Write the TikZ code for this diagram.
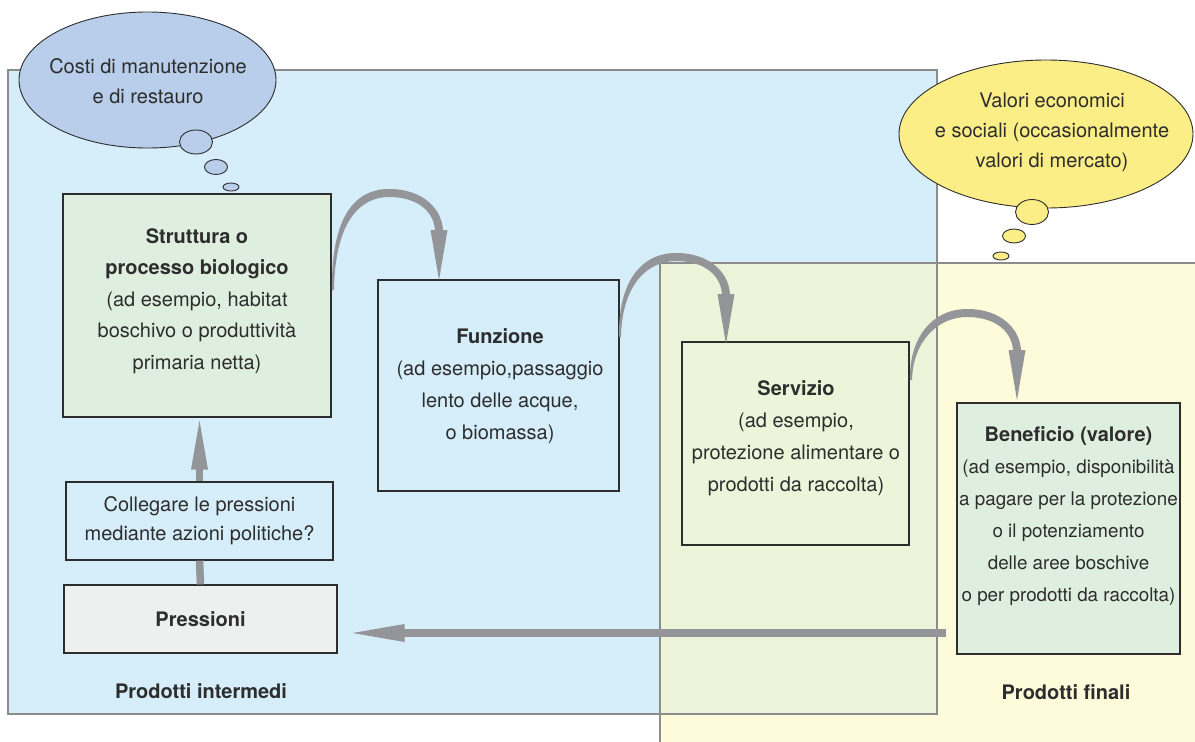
\documentclass[tikz,border=0pt]{standalone}
\usepackage{fontspec}
\setmainfont{TeX Gyre Heros}
\usetikzlibrary{shapes.geometric,calc}
\definecolor{bgblue}{RGB}{214,238,250}
\definecolor{bgyellow}{RGB}{254,251,218}
\definecolor{overlapc}{RGB}{238,244,218}
\definecolor{bubbleblue}{RGB}{184,206,234}
\definecolor{bubbleyellow}{RGB}{251,238,135}
\definecolor{boxgreen}{RGB}{223,239,223}
\definecolor{boxgray}{RGB}{238,240,240}
\definecolor{arrowgray}{RGB}{147,149,153}
\definecolor{regionline}{RGB}{140,140,140}
\definecolor{textc}{RGB}{45,45,45}
\newcommand\myarc[3]{%
\fill[arrowgray] (#1,#3) .. controls (#1-1,#2+25) and (#1+22,#2-4) .. (#1+57,#2-4) .. controls (#1+92,#2-4) and (#1+111,#2+17) .. (#1+111,#2+39) -- (#1+103,#2+39) .. controls (#1+103,#2+20) and (#1+87,#2+4) .. (#1+57,#2+4) .. controls (#1+29,#2+4) and (#1+3,#2+27) .. (#1+2,#3) -- cycle;
\fill[arrowgray] (#1+98.5,#2+37) -- (#1+115.5,#2+37) -- (#1+107,#2+87) -- cycle;}
\begin{document}
\begin{tikzpicture}[x=1pt,y=-1pt,
  txt/.style={font=\fontsize{20}{31.5}\selectfont, text=textc, align=center, inner sep=0pt},
  bubtxt/.style={font=\fontsize{20}{30}\selectfont, text=textc, align=center, inner sep=0pt},
  box/.style={draw=textc, line width=1.2pt, inner sep=0pt},
  bub/.style={ellipse, draw=textc, line width=0.9pt, inner sep=0pt},
  shaft/.style={draw=arrowgray, line width=7.5pt}]
\useasboundingbox (0,0) rectangle (1195,742);
\clip (0,0) rectangle (1195,742);
% regions
\fill[bgblue] (8,70) rectangle (937,714);
\fill[bgyellow] (660,263) rectangle (1205,750);
\fill[overlapc] (660,263) rectangle (937,714);
\draw[regionline, line width=1.1pt] (8,70) rectangle (937,714);
\draw[regionline, line width=1.1pt] (660,263) rectangle (1205,750);
\node[txt, font=\fontsize{20}{32}\selectfont\bfseries] (interm) at (201,691) {Prodotti intermedi};
\node[txt, font=\fontsize{20}{32}\selectfont\bfseries] (finali) at (1066,692) {Prodotti finali};
% thought bubbles
\node[bub, fill=bubbleblue, minimum width=257pt, minimum height=136pt] (costi) at (147.5,80) {};
\node[bubtxt] (costi-t) at (148,81) {Costi di manutenzione\\e di restauro};
\node[bub, fill=bubbleblue, minimum width=33pt, minimum height=24pt] (cb1) at (196,142) {};
\node[bub, fill=bubbleblue, minimum width=23pt, minimum height=15pt] (cb2) at (216,167) {};
\node[bub, fill=bubbleblue, minimum width=16pt, minimum height=8pt] (cb3) at (231,187) {};
\node[bub, fill=bubbleyellow, minimum width=294pt, minimum height=148pt] (valori) at (1046,134) {};
\node[bubtxt] (valori-t) at (1052,132.5) {Valori economici\\e sociali (occasionalmente\\valori di mercato)};
\node[bub, fill=bubbleyellow, minimum width=33pt, minimum height=25pt] (vb1) at (1032,212) {};
\node[bub, fill=bubbleyellow, minimum width=23pt, minimum height=14pt] (vb2) at (1014,236) {};
\node[bub, fill=bubbleyellow, minimum width=16pt, minimum height=8pt] (vb3) at (1001,256) {};
% boxes
\node[box, fill=boxgreen, minimum width=268pt, minimum height=223pt] (strut) at (197,305.5) {};
\node[txt] (strut-t) at (197,301) {\textbf{Struttura o}\\\textbf{processo biologico}\\(ad esempio, habitat\\boschivo o produttività\\primaria netta)};
\node[box, minimum width=241pt, minimum height=211pt] (funz) at (498.5,385.5) {};
\node[txt, font=\fontsize{20}{32}\selectfont] (funz-t) at (500,386) {\textbf{Funzione}\\(ad esempio,passaggio\\lento delle acque,\\o biomassa)};
\node[box, minimum width=227pt, minimum height=203pt] (serv) at (795.5,443.5) {};
\node[txt, font=\fontsize{20}{32}\selectfont] (serv-t) at (796,438) {\textbf{Servizio}\\(ad esempio,\\protezione alimentare o\\prodotti da raccolta)};
\node[box, fill=boxgreen, minimum width=223pt, minimum height=251pt] (benef) at (1068.5,528.5) {};
\node[txt, font=\fontsize{18.8}{32}\selectfont] (benef-t) at (1068.5,516) {{\fontsize{20}{32}\selectfont\bfseries Beneficio (valore)}\\(ad esempio, disponibilità\\a pagare per la protezione\\o il potenziamento\\delle aree boschive\\o per prodotti da raccolta)};
\node[box, minimum width=267pt, minimum height=78pt, txt, font=\fontsize{20}{29}\selectfont] (coll) at (199.5,521) {Collegare le pressioni\\mediante azioni politiche?};
\node[box, fill=boxgray, minimum width=273pt, minimum height=68pt, txt, font=\fontsize{20}{29}\selectfont\bfseries] (press) at (200.5,619) {Pressioni};
% vertical arrows
\draw[shaft] (press.north) -- (coll.south);
\draw[shaft] (coll.north) -- ($(coll.north |- strut.south)+(0,50)$);
\fill[arrowgray] ($(coll.north |- strut.south)+(-8.5,52)$) -- ($(coll.north |- strut.south)+(8.5,52)$) -- ($(coll.north |- strut.south)+(0,3)$) -- cycle;
% horizontal arrow
\coordinate (hs) at (946,633);
\draw[shaft] (hs) -- ($(press.east |- hs)+(65,0)$);
\fill[arrowgray] ($(press.east |- hs)+(67,-9)$) -- ($(press.east |- hs)+(67,9)$) -- ($(press.east |- hs)+(15,0)$) -- cycle;
% curved arrows
\myarc{332}{193}{290}
\myarc{619}{257}{337}
\myarc{910}{313}{380}
\end{tikzpicture}
\end{document}
